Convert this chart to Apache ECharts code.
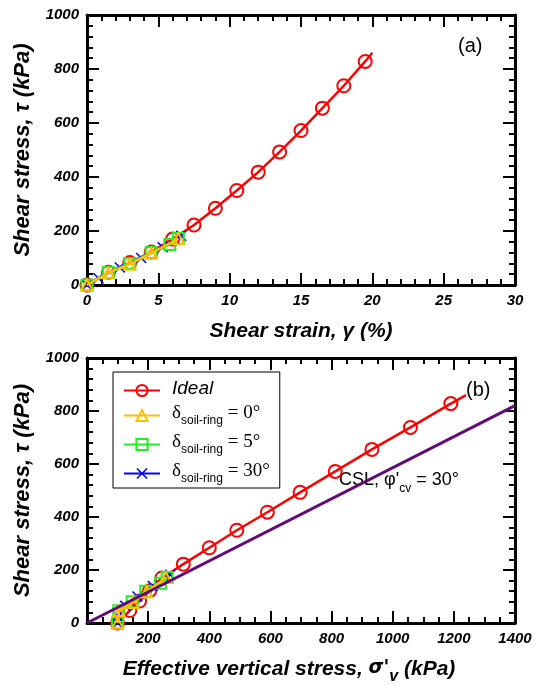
<!DOCTYPE html>
<html>
<head>
<meta charset="utf-8">
<script src="https://cdn.jsdelivr.net/npm/echarts@6/dist/echarts.min.js"></script>
<style>
  html, body { margin: 0; padding: 0; background: #fff; }
  #main { width: 536px; height: 686px; }
</style>
</head>
<body>
<div id="main"></div>
<script>
  // (a) shear strain vs shear stress, (b) effective vertical stress vs shear stress
  const strainIdeal = [0, 1.5, 3, 4.5, 6, 7.5, 9, 10.5, 12, 13.5, 15, 16.5, 18, 19.5, 20];
  const tauIdeal = [0, 47, 83, 122, 170, 222, 284, 350, 418, 493, 572, 655, 738, 828, 860];
  const sigmaIdeal = [100, 140, 172, 205, 245, 315, 400, 490, 590, 697, 812, 932, 1058, 1190, 1240];

  const strainD0 = [0, 1.5, 3, 4.5, 6.4];
  const tauD0 = [0, 45, 77, 118, 172];
  const sigmaD0 = [100, 105, 150, 195, 258];

  const strainD5 = [0, 1.5, 3, 4.5, 5.8, 6.4];
  const tauD5 = [0, 46, 80, 120, 150, 172];
  const sigmaD5 = [100, 104, 148, 192, 240, 262];

  const strainD30 = [0, 0.8, 2.3, 3.8, 5.3, 6.6];
  const tauD30 = [0, 25, 65, 100, 140, 182];
  const sigmaD30 = [100, 102, 125, 165, 215, 272];

  const cslSigma = [0, 1400];
  const cslTau = [0, 820];

  const legendNames = ['Ideal', 'd0', 'd5', 'd30'];
  const legendLabels = {
    Ideal: '{i|Ideal}',
    d0: '{d|δ}{s|soil-ring}{g| = 0°}',
    d5: '{d|δ}{s|soil-ring}{g| = 5°}',
    d30: '{d|δ}{s|soil-ring}{g| = 30°}'
  };

  const pairs = (xs, ys) => xs.map((x, i) => [x, ys[i]]);
  // last point of the ideal curve is only the line end, no marker
  const idealData = (xs) => pairs(xs, tauIdeal).map((p, i) =>
    i === xs.length - 1 ? {value: p, symbol: 'none'} : p);

  const RED = '#ff0000', GOLD = '#ffbf00', GREEN = '#22ee22', BLUE = '#0000ff', PURPLE = '#640a78';
  const X_PATH = 'path://M0,1L1,0L5,4L9,0L10,1L6,5L10,9L9,10L5,6L1,10L0,9L4,5Z';

  const labelFont = {
    fontFamily: 'Liberation Sans', fontWeight: 'bold', fontStyle: 'italic', fontSize: 15, color: '#000'
  };
  const nameFont = {
    fontFamily: 'Liberation Sans', fontWeight: 'bold', fontStyle: 'italic', fontSize: 21, color: '#000'
  };
  const yNameFont = Object.assign({}, nameFont, {fontSize: 22});

  function valAxis(opt, minorSplit, showLabel, hideZero) {
    return Object.assign({
      type: 'value',
      axisLine: {onZero: false, lineStyle: {color: '#000', width: 3}},
      axisTick: {inside: true, length: 12, lineStyle: {color: '#000', width: 2}},
      minorTick: {show: true, splitNumber: minorSplit, length: 6, lineStyle: {color: '#000', width: 2}},
      splitLine: {show: false},
      minorSplitLine: {show: false},
      axisLabel: Object.assign({
        show: showLabel, margin: 8,
        formatter: (v) => (hideZero && v === 0) ? '' : String(v)
      }, labelFont)
    }, opt);
  }

  function lineSeries(name, data, color, symbol, size, xi, yi, z) {
    return {
      name: name, type: 'line', data: data,
      xAxisIndex: xi, yAxisIndex: yi, z: z,
      symbol: symbol, symbolSize: size,
      lineStyle: {color: color, width: 2.5},
      itemStyle: {color: symbol === X_PATH ? color : 'rgba(255,255,255,0)', borderColor: color,
        borderWidth: symbol === X_PATH ? 0 : 2},
      emphasis: {disabled: true},
      animation: false
    };
  }

  let myChart = echarts.init(document.getElementById('main'));
  let option = {
    backgroundColor: '#fff',
    animation: false,
    grid: [
      {left: 87, top: 15, width: 428, height: 270},
      {left: 87, top: 358, width: 428, height: 270}
    ],
    xAxis: [
      valAxis({gridIndex: 0, min: 0, max: 30, interval: 5, name: 'Shear strain, γ (%)',
        nameLocation: 'middle', nameGap: 36, nameTextStyle: nameFont}, 5, true, false),
      valAxis({gridIndex: 0, min: 0, max: 30, interval: 5, position: 'top'}, 5, false),
      valAxis({gridIndex: 1, min: 0, max: 1400, interval: 200,
        name: '{n|Effective vertical stress, }{g|σ\'}{v|v}{n| (kPa)}',
        nameLocation: 'middle', nameGap: 36,
        nameTextStyle: Object.assign({}, nameFont, {
          padding: [0, 24, 0, 0],
          rich: {
            g: {fontFamily: 'DejaVu Sans', fontSize: 19, color: '#000', lineHeight: 26, verticalAlign: 'top'},
            v: {fontFamily: 'Liberation Sans', fontWeight: 'bold', fontStyle: 'italic', fontSize: 16,
              color: '#000', lineHeight: 14, verticalAlign: 'bottom'},
            n: {fontFamily: 'Liberation Sans', fontWeight: 'bold', fontStyle: 'italic', fontSize: 21,
              color: '#000', lineHeight: 26, verticalAlign: 'top'}
          }
        })}, 4, true, true),
      valAxis({gridIndex: 1, min: 0, max: 1400, interval: 200, position: 'top'}, 4, false)
    ],
    yAxis: [
      valAxis({gridIndex: 0, min: 0, max: 1000, interval: 200, name: 'Shear stress, τ (kPa)',
        nameLocation: 'middle', nameGap: 53, nameTextStyle: yNameFont}, 5, true, false),
      valAxis({gridIndex: 0, min: 0, max: 1000, interval: 200, position: 'right'}, 5, false),
      valAxis({gridIndex: 1, min: 0, max: 1000, interval: 200, name: 'Shear stress, τ (kPa)',
        nameLocation: 'middle', nameGap: 53, nameTextStyle: yNameFont}, 5, true, false),
      valAxis({gridIndex: 1, min: 0, max: 1000, interval: 200, position: 'right'}, 5, false)
    ],
    legend: {
      data: legendNames,
      orient: 'vertical',
      left: 113, top: 372,
      backgroundColor: '#fff',
      borderColor: '#000', borderWidth: 1,
      padding: [7, 10, 3, 10],
      itemWidth: 36, itemHeight: 14, itemGap: 6,
      formatter: (n) => legendLabels[n],
      textStyle: {
        color: '#000',
        rich: {
          i: {fontFamily: 'Liberation Sans', fontStyle: 'italic', fontSize: 19, lineHeight: 23,
            verticalAlign: 'top', padding: [0, 0, 0, 7], color: '#000'},
          d: {fontFamily: 'Liberation Serif', fontSize: 19, lineHeight: 23, verticalAlign: 'top',
            padding: [0, 0, 0, 7], color: '#000'},
          g: {fontFamily: 'Liberation Serif', fontSize: 19, lineHeight: 23, verticalAlign: 'top', color: '#000'},
          s: {fontFamily: 'Liberation Sans', fontSize: 12, lineHeight: 11, verticalAlign: 'bottom', color: '#000'}
        }
      }
    },
    graphic: [
      {type: 'text', left: 458, top: 36, style: {text: '(a)', font: '20px "Liberation Sans"', fill: '#000'}},
      {type: 'text', left: 466, top: 380, style: {text: '(b)', font: '20px "Liberation Sans"', fill: '#000'}},
      {type: 'text', left: 339, top: 471, style: {
        text: '{a|CSL, φ\'}{b|cv}{a| = 30°}',
        rich: {
          a: {fontFamily: 'Liberation Sans', fontSize: 18, lineHeight: 24, verticalAlign: 'top', fill: '#000'},
          b: {fontFamily: 'Liberation Sans', fontSize: 12, lineHeight: 12, verticalAlign: 'bottom', fill: '#000'}
        }
      }}
    ],
    series: [
      // (a)
      lineSeries('Ideal', idealData(strainIdeal), RED, 'circle', 13, 0, 0, 2),
      lineSeries('d30', pairs(strainD30, tauD30), BLUE, X_PATH, 11, 0, 0, 3),
      lineSeries('d5', pairs(strainD5, tauD5), GREEN, 'rect', 11, 0, 0, 4),
      lineSeries('d0', pairs(strainD0, tauD0), GOLD, 'triangle', 11, 0, 0, 5),
      // (b)
      lineSeries('Ideal', idealData(sigmaIdeal), RED, 'circle', 13, 2, 2, 2),
      lineSeries('d30', pairs(sigmaD30, tauD30), BLUE, X_PATH, 11, 2, 2, 3),
      lineSeries('d5', pairs(sigmaD5, tauD5), GREEN, 'rect', 11, 2, 2, 4),
      lineSeries('d0', pairs(sigmaD0, tauD0), GOLD, 'triangle', 11, 2, 2, 5),
      {
        name: 'CSL', type: 'line', xAxisIndex: 2, yAxisIndex: 2, z: 6,
        data: pairs(cslSigma, cslTau), symbol: 'none',
        lineStyle: {color: PURPLE, width: 3}, animation: false
      }
    ]
  };
  myChart.setOption(option);
</script>
</body>
</html>
